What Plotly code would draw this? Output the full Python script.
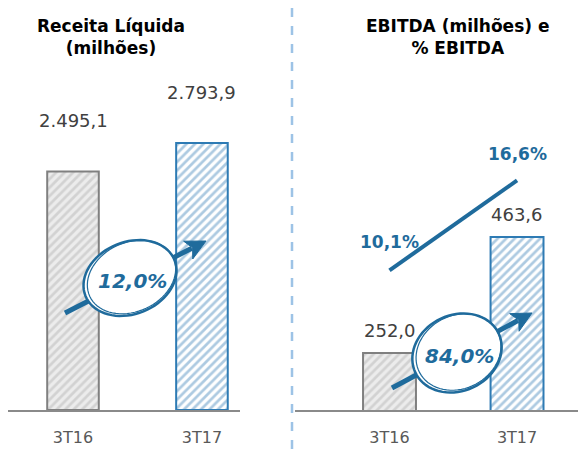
import math
import plotly.graph_objects as go

# ---- data ----
periods = ["3T16", "3T17"]
receita = [2495.1, 2793.9]          # Receita Líquida (milhões)
ebitda = [252.0, 463.6]             # EBITDA (milhões)
margem = [10.1, 16.6]               # % EBITDA
growth = ["12,0%", "84,0%"]         # crescimento 3T17 x 3T16
titles = ["Receita Líquida<br>(milhões)", "EBITDA (milhões) e<br>% EBITDA"]

W, H = 578, 449
BLUE = "#1f6b9c"
FONT = "DejaVu Sans, sans-serif"


def br(v, d=1):
    s = f"{v:,.{d}f}"
    return s.replace(",", "X").replace(".", ",").replace("X", ".")


def px(x):
    return x / W


def py(y):
    return 1 - y / H


fig = go.Figure()

gray_marker = dict(color="#ffffff", line=dict(color="#808080", width=2),
                   pattern=dict(shape="/", fgcolor="#b8b8b8", bgcolor="#ececec", size=6, solidity=0.45))
blue_marker = dict(color="#ffffff", line=dict(color="#2e7bb4", width=2),
                   pattern=dict(shape="/", fgcolor="#5b95c4", bgcolor="#ffffff", size=6, solidity=0.45))

# left chart
fig.add_bar(x=[periods[0]], y=[receita[0]], xaxis="x", yaxis="y", width=0.40, marker=gray_marker, showlegend=False)
fig.add_bar(x=[periods[1]], y=[receita[1]], xaxis="x", yaxis="y", width=0.40, marker=blue_marker, showlegend=False)
# right chart
fig.add_bar(x=[periods[0]], y=[ebitda[0]], xaxis="x2", yaxis="y2", width=0.415, marker=gray_marker, showlegend=False)
fig.add_bar(x=[periods[1]], y=[ebitda[1]], xaxis="x2", yaxis="y2", width=0.415, marker=blue_marker, showlegend=False)
fig.add_scatter(x=periods, y=margem, xaxis="x2", yaxis="y3", mode="lines",
                line=dict(color=BLUE, width=4), showlegend=False)

axis_common = dict(type="category", categoryarray=periods, showline=True, linecolor="#8a8a8a", linewidth=1.5,
                   ticks="", showgrid=False, zeroline=False,
                   tickfont=dict(family=FONT, size=16, color="#595959"), ticklabelstandoff=12)
ydom = [39 / H, 1]
fig.update_layout(
    width=W, height=H, margin=dict(l=0, r=0, t=0, b=0),
    paper_bgcolor="white", plot_bgcolor="rgba(0,0,0,0)", barmode="overlay",
    font=dict(family=FONT),
    xaxis=dict(domain=[px(8), px(240)], range=[-0.504, 1.295], anchor="y", **axis_common),
    yaxis=dict(domain=ydom, range=[0, 4289], visible=False, anchor="x"),
    xaxis2=dict(domain=[px(295), 1], range=[-0.741, 1.478], anchor="y2", **axis_common),
    yaxis2=dict(domain=ydom, range=[147.9, 896], visible=False, anchor="x2"),
    yaxis3=dict(domain=ydom, range=[0, 29.65], visible=False, anchor="x2", overlaying="y2"),
)

ann = []
# data labels
for p, v in zip(periods, receita):
    ann.append(dict(x=p, y=v, xref="x", yref="y", text=br(v), showarrow=False, xanchor="center",
                    yanchor="bottom", yshift=38, font=dict(size=18, color="#404040")))
for p, v in zip(periods, ebitda):
    ann.append(dict(x=p, y=v, xref="x2", yref="y2", text=br(v), showarrow=False, xanchor="center",
                    yanchor="bottom", yshift=10, font=dict(size=18, color="#404040")))
for p, v, s in zip(periods, margem, [28, 26]):
    ann.append(dict(x=p, y=v, xref="x2", yref="y3", text=f"<b>{br(v)}%</b>", showarrow=False,
                    xanchor="center", yshift=s, font=dict(size=17, color=BLUE)))
# titles
for t, cx in zip(titles, [111, 457]):
    ann.append(dict(x=px(cx), y=py(37), xref="paper", yref="paper", text=f"<b>{t}</b>", showarrow=False,
                    xanchor="center", yanchor="middle", align="center", font=dict(size=17, color="black")))

shapes = []
# separator
shapes.append(dict(type="line", xref="paper", yref="paper", x0=px(292), x1=px(292), y0=0, y1=py(6),
                   line=dict(color="#9dc3e6", width=2.5, dash="dash")))


def arrow(tail, head):
    (x0, y0), (x1, y1) = tail, head
    dx, dy = x1 - x0, y1 - y0
    L = math.hypot(dx, dy)
    ux, uy = dx / L, dy / L
    nx, ny = -uy, ux
    hl, hw = 20, 10
    bx, by = x1 - hl * ux, y1 - hl * uy
    out = [dict(type="line", xref="paper", yref="paper", x0=px(x0), y0=py(y0), x1=px(bx + 4 * ux), y1=py(by + 4 * uy),
                line=dict(color=BLUE, width=5))]
    pts = [(x1, y1), (bx + hw * nx, by + hw * ny), (bx + 5 * ux, by + 5 * uy), (bx - hw * nx, by - hw * ny)]
    path = "M " + " L ".join(f"{px(a):.5f},{py(b):.5f}" for a, b in pts) + " Z"
    out.append(dict(type="path", xref="paper", yref="paper", path=path, fillcolor=BLUE, line=dict(color=BLUE, width=1)))
    return out


def ellipse(cx, cy, a, b, rot, fill, width):
    r = math.radians(rot)
    pts = []
    for i in range(73):
        t = 2 * math.pi * i / 72
        ex, ey = a * math.cos(t), b * math.sin(t)
        pts.append((cx + ex * math.cos(r) - ey * math.sin(r), cy + ex * math.sin(r) + ey * math.cos(r)))
    path = "M " + " L ".join(f"{px(x):.5f},{py(y):.5f}" for x, y in pts) + " Z"
    return dict(type="path", xref="paper", yref="paper", path=path, fillcolor=fill, line=dict(color=BLUE, width=width))


badges = [((130, 278), (65, 313), (206, 241), 48, 36, -22),
          ((457, 353), (392, 388), (532, 313), 46, 38, -25)]
for (cx, cy), tail, head, a, b, rot in badges:
    shapes += arrow(tail, head)
    shapes.append(ellipse(cx, cy, a, b, rot, "white", 2.5))
    shapes.append(ellipse(cx + 1.5, cy - 1, a - 2, b - 1.5, rot - 3, "rgba(0,0,0,0)", 1.2))

for ((cx, cy), *_), g in zip(badges, growth):
    ann.append(dict(x=px(cx + 2), y=py(cy + 3), xref="paper", yref="paper", text=f"<b><i>{g}</i></b>",
                    showarrow=False, xanchor="center", yanchor="middle", font=dict(size=20, color=BLUE)))

fig.update_layout(annotations=ann, shapes=shapes)
fig.write_html("out.html", config={"displayModeBar": False},
               post_script="document.body.style.margin='0px';")
